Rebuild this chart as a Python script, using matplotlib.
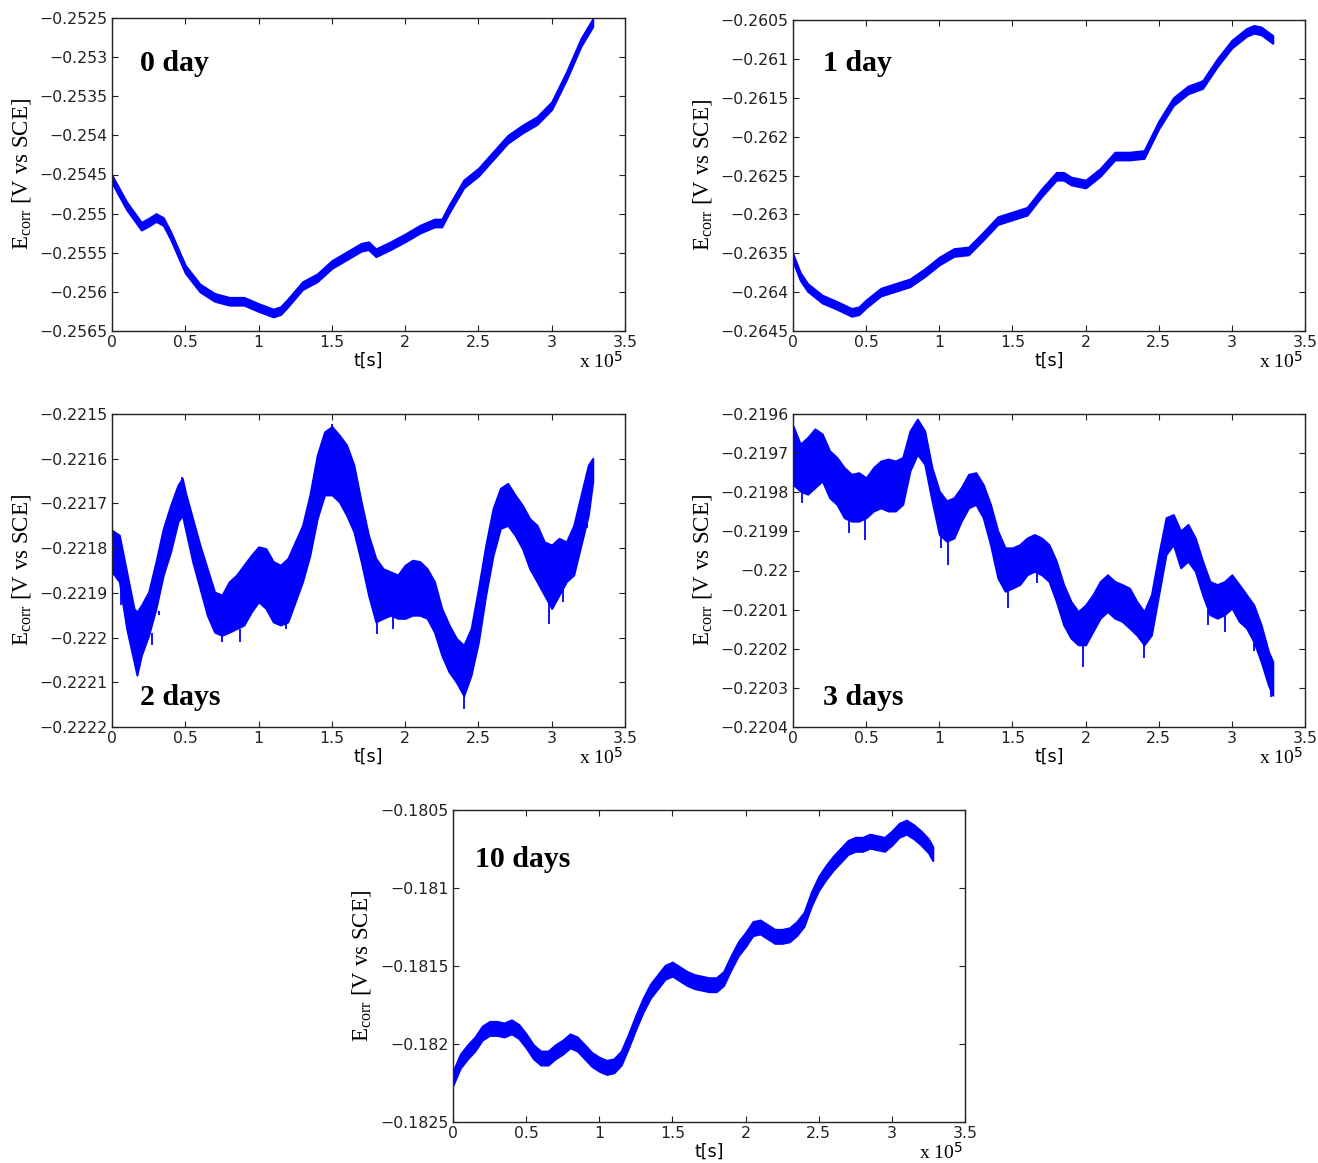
import numpy as np
import matplotlib
matplotlib.use("Agg")
import matplotlib.pyplot as plt
from matplotlib.ticker import FuncFormatter, MultipleLocator

plt.rcParams['mathtext.fontset'] = 'custom'
plt.rcParams['mathtext.rm'] = 'Liberation Serif'
plt.rcParams['mathtext.it'] = 'Liberation Serif:italic'
plt.rcParams['mathtext.sf'] = 'DejaVu Sans'

# ---------------- data (t in units of 1e5 s) ----------------
# 0 day: centre line
t0 = [0, 0.1, 0.2, 0.25, 0.3, 0.35, 0.4, 0.5, 0.6, 0.7, 0.8, 0.9, 1.0, 1.1, 1.15,
      1.2, 1.3, 1.4, 1.5, 1.6, 1.7, 1.75, 1.8, 1.9, 2.0, 2.1, 2.2, 2.25, 2.3, 2.4,
      2.5, 2.6, 2.7, 2.8, 2.9, 3.0, 3.1, 3.2, 3.28]
e0 = [-0.25456, -0.25490, -0.25516, -0.25511, -0.25505, -0.25510, -0.25528,
      -0.25571, -0.25595, -0.25607, -0.25612, -0.25612, -0.25620, -0.25627,
      -0.25624, -0.25614, -0.25592, -0.25582, -0.25565, -0.25554, -0.25543,
      -0.25541, -0.25550, -0.25541, -0.25531, -0.25520, -0.25512, -0.25512,
      -0.25494, -0.25462, -0.25447, -0.25426, -0.25405, -0.25392, -0.25381,
      -0.25362, -0.25324, -0.25281, -0.25256]
hw0 = 0.00005

# 1 day: centre line
t1 = [0, 0.05, 0.1, 0.2, 0.3, 0.4, 0.45, 0.5, 0.6, 0.7, 0.8, 0.9, 1.0, 1.1, 1.2,
      1.3, 1.4, 1.5, 1.6, 1.7, 1.8, 1.85, 1.9, 2.0, 2.1, 2.2, 2.3, 2.4, 2.5, 2.6,
      2.7, 2.8, 2.9, 3.0, 3.1, 3.15, 3.2, 3.28]
e1 = [-0.26356, -0.26380, -0.26394, -0.26409, -0.26417, -0.26426, -0.26424,
      -0.26415, -0.26400, -0.26394, -0.26388, -0.26375, -0.26360, -0.26349,
      -0.26347, -0.26328, -0.26308, -0.26302, -0.26296, -0.26272, -0.26251,
      -0.26251, -0.26257, -0.26261, -0.26246, -0.26225, -0.26225, -0.26223,
      -0.26185, -0.26155, -0.26140, -0.26133, -0.26105, -0.26081, -0.26066,
      -0.26062, -0.26064, -0.26075]
hw1 = 0.00005

# 2 days: upper / lower envelope, in units of 1e-4 V below -0.2215
t2 = [0, 0.05, 0.1, 0.15, 0.17, 0.2, 0.25, 0.3, 0.35, 0.4, 0.45, 0.48, 0.5, 0.55,
      0.6, 0.65, 0.7, 0.75, 0.8, 0.85, 0.9, 0.95, 1.0, 1.05, 1.1, 1.15, 1.2, 1.25,
      1.3, 1.35, 1.4, 1.45, 1.5, 1.55, 1.6, 1.65, 1.7, 1.75, 1.8, 1.85, 1.9, 1.95,
      2.0, 2.05, 2.1, 2.15, 2.2, 2.25, 2.3, 2.35, 2.4, 2.45, 2.5, 2.55, 2.6, 2.65,
      2.7, 2.75, 2.8, 2.85, 2.9, 2.95, 3.0, 3.05, 3.1, 3.15, 3.2, 3.25, 3.28]
up2 = [2.6, 2.71, 3.53, 4.35, 4.43, 4.28, 3.98, 3.3, 2.56, 2.04, 1.59, 1.44, 1.74,
       2.34, 2.93, 3.46, 3.98, 4.05, 3.75, 3.6, 3.38, 3.16, 2.97, 3.01, 3.3, 3.38,
       3.23, 2.86, 2.49, 1.81, 0.92, 0.4, 0.28, 0.47, 0.69, 1.14, 1.96, 2.71, 3.23,
       3.46, 3.53, 3.6, 3.38, 3.27, 3.3, 3.46, 3.75, 4.35, 4.72, 5.02, 5.17, 4.8,
       3.9, 2.93, 2.11, 1.66, 1.55, 1.81, 2.04, 2.34, 2.49, 2.86, 2.93, 2.78, 2.86,
       2.49, 1.81, 1.14, 0.99]
lo2 = [3.53, 3.75, 4.8, 5.54, 5.84, 5.4, 4.95, 4.35, 3.6, 3.08, 2.41, 2.26, 2.56,
       3.3, 3.9, 4.5, 4.88, 4.95, 4.88, 4.8, 4.72, 4.43, 4.2, 4.35, 4.65, 4.72,
       4.65, 4.2, 3.75, 3.16, 2.34, 1.81, 1.81, 1.96, 2.26, 2.63, 3.3, 4.05, 4.65,
       4.57, 4.5, 4.57, 4.57, 4.5, 4.5, 4.57, 4.88, 5.4, 5.77, 6.0, 6.3, 5.84, 5.1,
       4.05, 3.16, 2.56, 2.49, 2.71, 3.01, 3.46, 3.75, 4.05, 4.35, 4.05, 3.75, 3.6,
       2.93, 2.26, 1.51]
ref2 = -0.2215
# 2 days: isolated noise spikes (t, base, tip) in the same units
sp2_t = [0.063, 0.27, 0.32, 0.75, 0.87, 1.19, 1.81, 1.92, 2.40, 2.98, 3.08, 3.24, 0.48, 1.5]
sp2_a = [3.7, 4.9, 4.4, 4.9, 4.8, 4.7, 4.6, 4.5, 6.2, 4.0, 3.8, 2.2, 1.6, 0.5]
sp2_b = [4.28, 5.17, 4.5, 5.1, 5.1, 4.8, 4.91, 4.8, 6.59, 4.69, 4.2, 2.56, 1.4, 0.23]

# 3 days: upper / lower envelope, in units of 1e-4 V below -0.2196
t3 = [0, 0.05, 0.1, 0.15, 0.2, 0.25, 0.3, 0.35, 0.4, 0.45, 0.5, 0.55, 0.6, 0.65,
      0.7, 0.75, 0.8, 0.85, 0.9, 0.95, 1.0, 1.05, 1.1, 1.15, 1.2, 1.25, 1.3, 1.35,
      1.4, 1.45, 1.5, 1.55, 1.6, 1.65, 1.7, 1.75, 1.8, 1.85, 1.9, 1.95, 2.0, 2.05,
      2.1, 2.15, 2.2, 2.25, 2.3, 2.35, 2.4, 2.45, 2.5, 2.55, 2.6, 2.65, 2.7, 2.75,
      2.8, 2.85, 2.9, 2.95, 3.0, 3.05, 3.1, 3.15, 3.2, 3.25, 3.28]
up3 = [0.3, 0.77, 0.6, 0.38, 0.51, 0.94, 1.11, 1.37, 1.54, 1.5, 1.63, 1.37, 1.2,
       1.15, 1.2, 1.11, 0.43, 0.13, 0.43, 1.37, 1.97, 2.22, 2.14, 1.88, 1.54, 1.5,
       1.8, 2.31, 2.99, 3.42, 3.42, 3.34, 3.17, 3.08, 3.17, 3.34, 3.76, 4.36, 4.79,
       5.05, 4.88, 4.62, 4.28, 4.11, 4.28, 4.36, 4.45, 4.79, 5.05, 4.62, 3.59, 2.65,
       2.57, 2.99, 2.82, 3.17, 3.76, 4.28, 4.36, 4.28, 4.11, 4.36, 4.62, 4.88, 5.39,
       6.07, 6.33]
lo3 = [1.8, 1.97, 2.05, 1.88, 1.71, 2.14, 2.31, 2.65, 2.74, 2.74, 2.65, 2.48, 2.4,
       2.48, 2.48, 2.31, 1.45, 1.03, 1.28, 2.22, 3.08, 3.25, 3.17, 2.74, 2.4, 2.31,
       2.65, 3.34, 4.19, 4.53, 4.45, 4.36, 4.11, 4.02, 4.11, 4.28, 4.79, 5.39, 5.73,
       5.9, 5.9, 5.56, 5.22, 5.05, 5.22, 5.3, 5.47, 5.65, 5.9, 5.65, 4.62, 3.59,
       3.34, 3.93, 3.76, 4.02, 4.62, 5.13, 5.22, 5.13, 4.96, 5.3, 5.47, 5.82, 6.33,
       6.93, 7.19]
ref3 = -0.2196
# 3 days: isolated noise spikes (t, base, tip)
sp3_t = [0.064, 0.38, 0.49, 1.01, 1.06, 1.47, 1.67, 1.98, 2.40, 2.84, 2.95, 3.15, 3.27]
sp3_a = [1.9, 2.7, 2.6, 2.9, 3.2, 4.4, 3.9, 5.8, 5.8, 5.0, 5.0, 5.7, 7.0]
sp3_b = [2.27, 3.04, 3.21, 3.42, 3.85, 4.96, 4.32, 6.46, 6.24, 5.39, 5.56, 6.07, 7.23]

# 10 days: centre line
t10 = [0, 0.05, 0.1, 0.15, 0.2, 0.25, 0.3, 0.35, 0.4, 0.45, 0.5, 0.55, 0.6, 0.65,
       0.7, 0.75, 0.8, 0.85, 0.9, 0.95, 1.0, 1.05, 1.1, 1.15, 1.2, 1.25, 1.3, 1.35,
       1.4, 1.45, 1.5, 1.55, 1.6, 1.65, 1.7, 1.75, 1.8, 1.85, 1.9, 1.95, 2.0, 2.05,
       2.1, 2.15, 2.2, 2.25, 2.3, 2.35, 2.4, 2.45, 2.5, 2.55, 2.6, 2.65, 2.7, 2.75,
       2.8, 2.85, 2.9, 2.95, 3.0, 3.05, 3.1, 3.15, 3.2, 3.25, 3.28]
e10 = [-0.18222, -0.18211, -0.18205, -0.18200, -0.18193, -0.18190, -0.18190,
       -0.18191, -0.18189, -0.18192, -0.18198, -0.18205, -0.18209, -0.18209,
       -0.18205, -0.18202, -0.18198, -0.18200, -0.18205, -0.18210, -0.18213,
       -0.18215, -0.18214, -0.18209, -0.18198, -0.18186, -0.18175, -0.18166,
       -0.18160, -0.18154, -0.18152, -0.18155, -0.18158, -0.18160, -0.18161,
       -0.18162, -0.18162, -0.18158, -0.18148, -0.18139, -0.18133, -0.18126,
       -0.18125, -0.18128, -0.18131, -0.18131, -0.18130, -0.18126, -0.18120,
       -0.18107, -0.18097, -0.18090, -0.18084, -0.18079, -0.18074, -0.18072,
       -0.18072, -0.18070, -0.18071, -0.18072, -0.18068, -0.18063, -0.18061,
       -0.18064, -0.18068, -0.18073, -0.18078]
hw10 = 0.000045

labels = ["0 day", "1 day", "2 days", "3 days", "10 days"]
ylims = [(-0.2565, -0.2525), (-0.2645, -0.2605), (-0.2222, -0.2215),
         (-0.2204, -0.2196), (-0.1825, -0.1805)]
ysteps = [0.0005, 0.0005, 0.0001, 0.0001, 0.0005]

# ---------------- figure ----------------
W, H = 1318, 1163
fig = plt.figure(figsize=(W / 100, H / 100), dpi=100)

def px_axes(l, t, r, b):
    return fig.add_axes([l / W, 1 - b / H, (r - l) / W, (b - t) / H])

boxes = [(112, 18, 625, 331), (793, 20, 1305, 331), (112, 414, 625, 727),
         (793, 414, 1305, 727), (453, 810, 965, 1122)]
label_pos = [(0.055, 0.855), (0.059, 0.86), (0.055, 0.093), (0.059, 0.093),
             (0.043, 0.84)]

blue = '#0000ff'

def yfmt(v, pos):
    s = '%g' % round(v, 6)
    return s.replace('-', '\u2212')

def xfmt(v, pos):
    return '%g' % round(v, 6)

curves = []
curves.append((np.array(t0), np.array(e0) - hw0, np.array(e0) + hw0))
curves.append((np.array(t1), np.array(e1) - hw1, np.array(e1) + hw1))
curves.append((np.array(t2), ref2 - np.array(lo2) * 1e-4, ref2 - np.array(up2) * 1e-4))
curves.append((np.array(t3), ref3 - np.array(lo3) * 1e-4, ref3 - np.array(up3) * 1e-4))
curves.append((np.array(t10), np.array(e10) - hw10, np.array(e10) + hw10))

spikes = {2: (sp2_t, sp2_a, sp2_b, ref2), 3: (sp3_t, sp3_a, sp3_b, ref3)}

for i, box in enumerate(boxes):
    ax = px_axes(*box)
    t, lo, hi = curves[i]
    ax.fill_between(t, lo, hi, color=blue, linewidth=1.4, edgecolor=blue)
    if i in spikes:
        st, sa, sb, r = spikes[i]
        ax.vlines(st, r - np.array(sa) * 1e-4, r - np.array(sb) * 1e-4,
                  color=blue, linewidth=1.3)
    ax.set_xlim(0, 3.5)
    ax.set_ylim(*ylims[i])
    ax.xaxis.set_major_locator(MultipleLocator(0.5))
    ax.yaxis.set_major_locator(MultipleLocator(ysteps[i]))
    ax.yaxis.set_major_formatter(FuncFormatter(yfmt))
    ax.xaxis.set_major_formatter(FuncFormatter(xfmt))
    ax.tick_params(direction='in', top=True, right=True, length=4, width=0.8,
                   labelsize=11.3, pad=3, colors='#222222')
    for sp in ax.spines.values():
        sp.set_linewidth(1.0)
        sp.set_color('#222222')
    ax.set_ylabel('E$_{\\rm corr}$ [V vs SCE]', fontsize=16.5,
                  family='Liberation Serif', labelpad=5)
    ax.set_xlabel('t[s]', fontsize=12.5, family='DejaVu Sans', labelpad=1)
    ax.text(0.995, -0.066, 'x 10$^{\\mathsf{5}}$', transform=ax.transAxes, ha='right',
            va='top', fontsize=14, family='Liberation Serif')
    ax.text(label_pos[i][0], label_pos[i][1], labels[i], transform=ax.transAxes,
            ha='left', va='center', fontsize=21.5, fontweight='bold',
            family='Liberation Serif')

fig.savefig('out.png', dpi=100)
